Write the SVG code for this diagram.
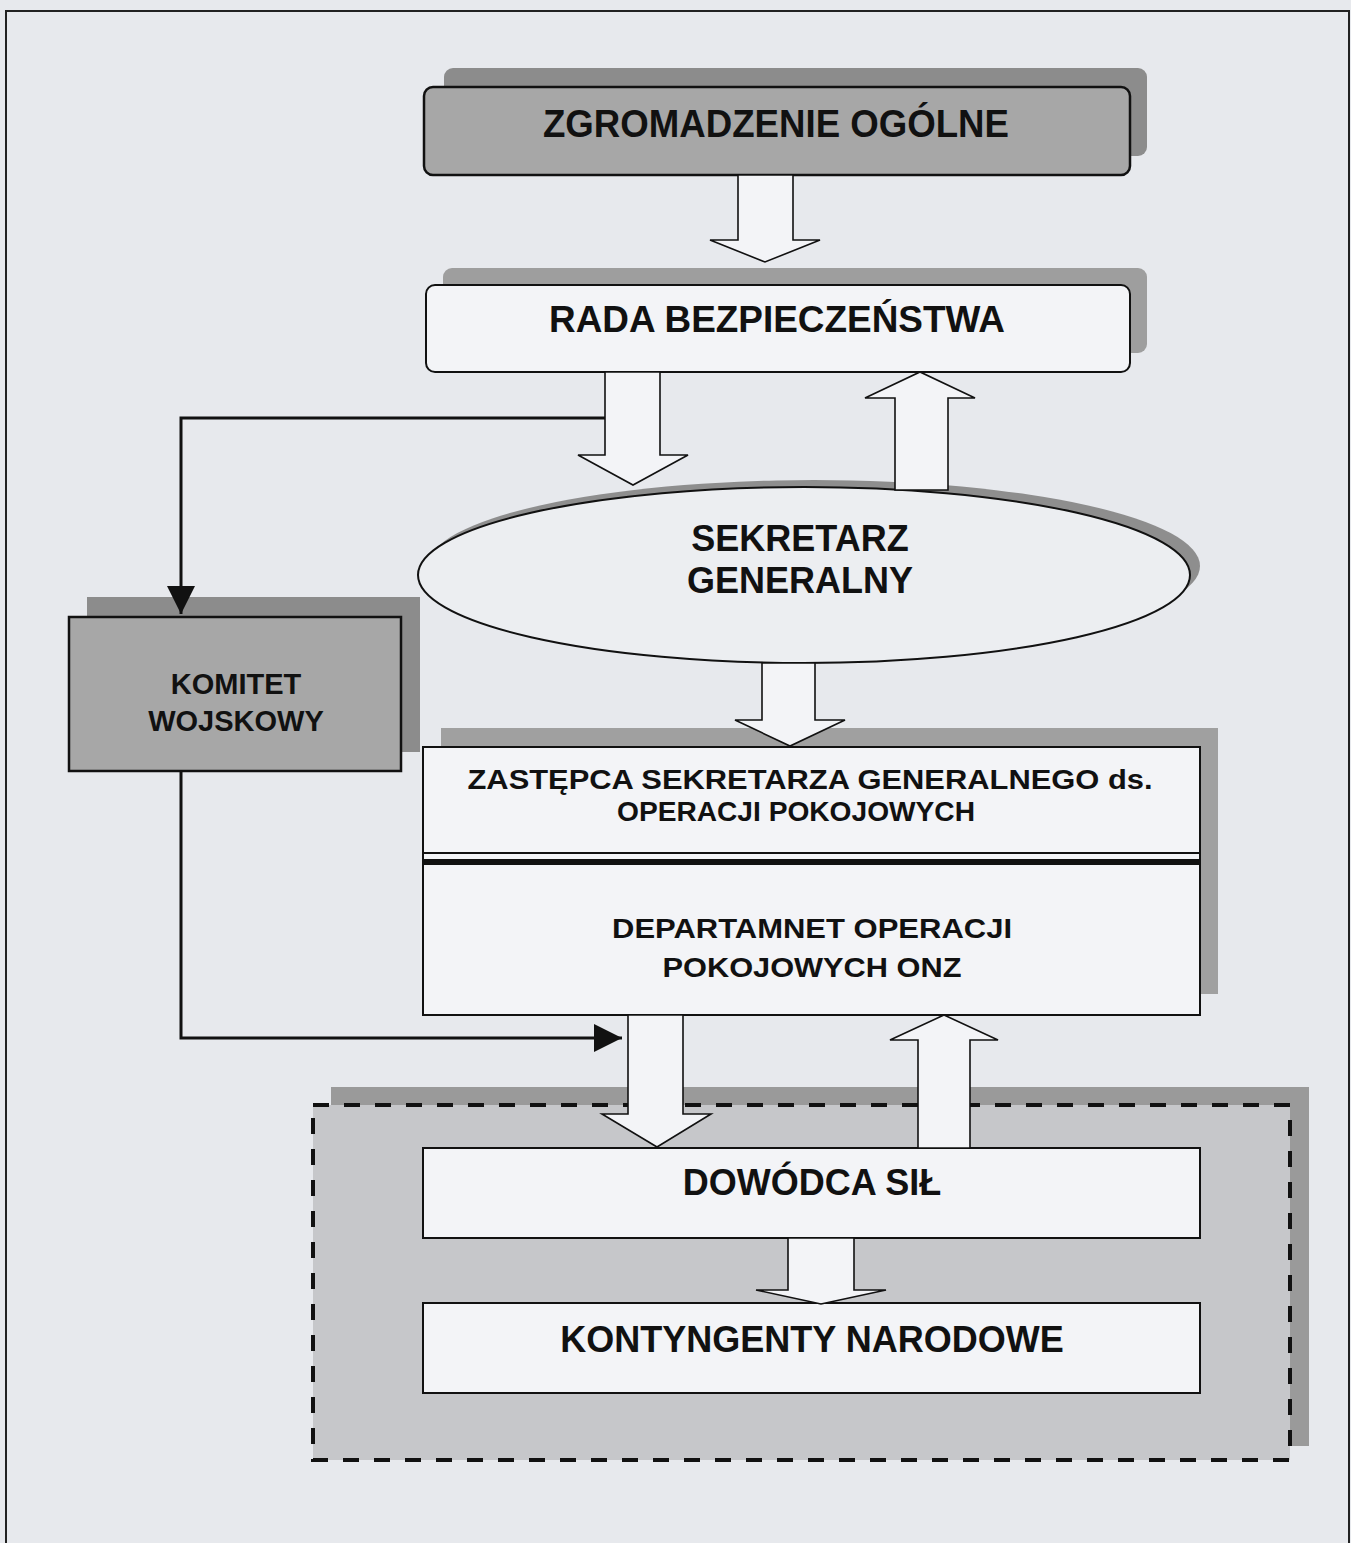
<svg xmlns="http://www.w3.org/2000/svg" width="1351" height="1543" viewBox="0 0 1351 1543">
<style>
text{font-family:"Liberation Sans",Arial,sans-serif;font-weight:bold;fill:#111;text-anchor:middle}
.box{fill:#f3f4f7;stroke:#111;stroke-width:2}
.gbox{fill:#a7a7a7;stroke:#111;stroke-width:2.5}
.shadow{fill:#8c8c8c}
.blk{fill:#f3f4f7;stroke:#111;stroke-width:1.6;stroke-linejoin:miter}
.line{fill:none;stroke:#111;stroke-width:3}
</style>
<defs>
<marker id="ah" markerUnits="userSpaceOnUse" markerWidth="30" markerHeight="30" viewBox="0 0 30 30" refX="28" refY="15" orient="auto">
<path d="M0,1 L28,15 L0,29 Z" fill="#111"/>
</marker>
</defs>
<rect x="0" y="0" width="1351" height="1543" fill="#e7e9ed"/>
<rect x="6" y="11" width="1343" height="1560" fill="none" stroke="#222" stroke-width="2"/>

<g id="sily-group">
<rect x="331" y="1087" width="978" height="359" fill="#9a9a9a"/>
<rect x="313" y="1105" width="977" height="355" fill="#c6c7ca" stroke="#111" stroke-width="4" stroke-dasharray="16,15"/>
</g>

<g id="zgromadzenie">
<rect x="444" y="68" width="703" height="88" rx="9" class="shadow"/>
<rect x="424" y="87" width="706" height="88" rx="9" class="gbox"/>
<text x="776" y="137" font-size="38" textLength="466" lengthAdjust="spacingAndGlyphs">ZGROMADZENIE OGÓLNE</text>
</g>

<g id="rada">
<rect x="443" y="268" width="704" height="85" rx="9" fill="#9e9e9e"/>
<rect x="426" y="285" width="704" height="87" rx="9" class="box"/>
<text x="777" y="332" font-size="36" textLength="456" lengthAdjust="spacingAndGlyphs">RADA BEZPIECZEŃSTWA</text>
</g>

<g id="sekretarz">
<ellipse cx="814" cy="566" rx="386" ry="86" fill="#8e8e8e"/>
<ellipse cx="804" cy="575" rx="386" ry="88" fill="#eceef1" stroke="#111" stroke-width="2"/>
<text x="800" y="551" font-size="36">SEKRETARZ</text>
<text x="800" y="593" font-size="36">GENERALNY</text>
</g>

<g id="komitet">
<rect x="87" y="597" width="333" height="155" class="shadow"/>
<rect x="69" y="617" width="332" height="154" class="gbox"/>
<text x="236" y="694" font-size="29">KOMITET</text>
<text x="236" y="731" font-size="29">WOJSKOWY</text>
</g>

<g id="zastepca-departament">
<rect x="441" y="728" width="777" height="266" fill="#a0a0a0"/>
<rect x="423" y="747" width="777" height="268" class="box"/>
<line x1="423" y1="853" x2="1200" y2="853" stroke="#111" stroke-width="2"/>
<line x1="423" y1="862" x2="1200" y2="862" stroke="#111" stroke-width="6"/>
<text x="810" y="789" font-size="27" textLength="685" lengthAdjust="spacingAndGlyphs">ZASTĘPCA SEKRETARZA GENERALNEGO ds.</text>
<text x="796" y="821" font-size="27" textLength="358" lengthAdjust="spacingAndGlyphs">OPERACJI POKOJOWYCH</text>
<text x="812" y="938" font-size="27" textLength="400" lengthAdjust="spacingAndGlyphs">DEPARTAMNET OPERACJI</text>
<text x="812" y="977" font-size="27" textLength="299" lengthAdjust="spacingAndGlyphs">POKOJOWYCH ONZ</text>
</g>

<g id="dowodca">
<rect x="423" y="1148" width="777" height="90" class="box"/>
<text x="812" y="1195" font-size="36">DOWÓDCA SIŁ</text>
</g>

<g id="kontyngenty">
<rect x="423" y="1303" width="777" height="90" class="box"/>
<text x="812" y="1352" font-size="36">KONTYNGENTY NARODOWE</text>
</g>

<g id="connectors">
<path class="blk" d="M738,175 L793,175 L793,240 L820,240 L765,262 L710,240 L738,240 Z"/>
<path class="blk" d="M605,372 L660,372 L660,455 L688,455 L633,485 L578,455 L605,455 Z"/>
<path class="blk" d="M895,490 L948,490 L948,398 L975,398 L920,372 L865,398 L895,398 Z"/>
<path class="blk" d="M762,663 L815,663 L815,720 L845,720 L790,746 L735,720 L762,720 Z"/>
<path class="blk" d="M628,1015 L683,1015 L683,1114 L711,1114 L657,1147 L602,1114 L628,1114 Z"/>
<path class="blk" d="M918,1148 L970,1148 L970,1040 L998,1040 L944,1015 L890,1040 L918,1040 Z"/>
<path class="blk" d="M788,1238 L854,1238 L854,1290 L886,1290 L821,1304 L756,1290 L788,1290 Z"/>
<polyline class="line" points="605,418 181,418 181,614" marker-end="url(#ah)"/>
<polyline class="line" points="181,771 181,1038 622,1038" marker-end="url(#ah)"/>
</g>
</svg>
